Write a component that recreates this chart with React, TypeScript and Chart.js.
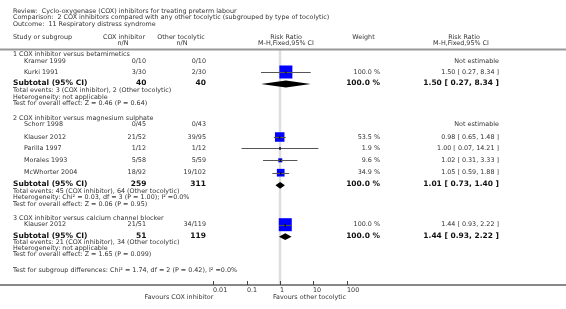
import React, { useEffect, useRef } from "react";
import { Chart, registerables } from "chart.js";

Chart.register(...registerables);

// ---------- DATA ----------
const titleLines = [
  "Review:  Cyclo-oxygenase (COX) inhibitors for treating preterm labour",
  "Comparison:  2 COX inhibitors compared with any other tocolytic (subgrouped by type of tocolytic)",
  "Outcome:  11 Respiratory distress syndrome",
];
const groupTitles = [
  "1 COX inhibitor versus betamimetics",
  "2 COX inhibitor versus magnesium sulphate",
  "3 COX inhibitor versus calcium channel blocker",
];
const studies = ["Kramer 1999", "Kurki 1991", "Schorr 1998", "Klauser 2012", "Parilla 1997", "Morales 1993", "McWhorter 2004", "Klauser 2012"];
const coxNN = ["0/10", "3/30", "0/45", "21/52", "1/12", "5/58", "18/92", "21/51"];
const otherNN = ["0/10", "2/30", "0/43", "39/95", "1/12", "5/59", "19/102", "34/119"];
const rr: (number | null)[] = [null, 1.5, null, 0.98, 1.0, 1.02, 1.05, 1.44];
const rrLow: (number | null)[] = [null, 0.27, null, 0.65, 0.07, 0.31, 0.59, 0.93];
const rrHigh: (number | null)[] = [null, 8.34, null, 1.48, 14.21, 3.33, 1.88, 2.22];
const weights: (number | null)[] = [null, 100, null, 53.5, 1.9, 9.6, 34.9, 100];
const subCox = [40, 259, 51];
const subOther = [40, 311, 119];
const subRR = [1.5, 1.01, 1.44];
const subLow = [0.27, 0.73, 0.93];
const subHigh = [8.34, 1.4, 2.22];
const totalEvents = [
  "Total events: 3 (COX inhibitor), 2 (Other tocolytic)",
  "Total events: 45 (COX inhibitor), 64 (Other tocolytic)",
  "Total events: 21 (COX inhibitor), 34 (Other tocolytic)",
];
const heterogeneity = [
  "Heterogeneity: not applicable",
  "Heterogeneity: Chi² = 0.03, df = 3 (P = 1.00); I² =0.0%",
  "Heterogeneity: not applicable",
];
const overallEffect = [
  "Test for overall effect: Z = 0.46 (P = 0.64)",
  "Test for overall effect: Z = 0.06 (P = 0.95)",
  "Test for overall effect: Z = 1.65 (P = 0.099)",
];
const subgroupDiff = "Test for subgroup differences: Chi² = 1.74, df = 2 (P = 0.42), I² =0.0%";
const axisTicks = [0.01, 0.1, 1, 10, 100];
const axisTickLabels = ["0.01", "0.1", "1", "10", "100"];
const favoursLeft = "Favours COX inhibitor";
const favoursRight = "Favours other tocolytic";

// ---------- LAYOUT (pixel rows on the y scale) ----------
const W = 566;
const H = 309;
const titleY = [11, 17.5, 24];
const headY1 = 37.5;
const headY2 = 43.3;
const headLineY = 49.5;
const groupHeadY = [54, 118.3, 218.3];
const studyY = [61, 72, 124.3, 137, 148.3, 160.3, 172.7, 224.7];
const subtotalY = [83, 184.3, 235.7];
const noteY = [
  [90.5, 97.2, 103.8],
  [191, 197.6, 204],
  [242.6, 248.8, 254.6],
];
const diffY = 270.7;
const axisY = 285;
const tickLabelY = 290;
const favoursY = 297;

const FONT = '"DejaVu Sans", Verdana, sans-serif';
const NORMAL = 6.4;
const BOLD = 7.5;
const TEXT = "#333333";

function fmt(v: number) {
  return v.toFixed(2);
}
function ciText(i: number) {
  return `${fmt(rr[i] as number)} [ ${fmt(rrLow[i] as number)}, ${fmt(rrHigh[i] as number)} ]`;
}

const forestPlugin = {
  id: "forest",
  beforeDatasetsDraw(chart: any) {
    const ctx = chart.ctx as CanvasRenderingContext2D;
    const xs = chart.scales.x;
    const ys = chart.scales.y;
    const x1 = xs.getPixelForValue(1);
    ctx.save();
    ctx.strokeStyle = "#dddddd";
    ctx.lineWidth = 2.5;
    ctx.beginPath();
    ctx.moveTo(x1, ys.getPixelForValue(headLineY));
    ctx.lineTo(x1, ys.getPixelForValue(axisY));
    ctx.stroke();
    ctx.restore();
  },
  afterDatasetsDraw(chart: any) {
    const ctx = chart.ctx as CanvasRenderingContext2D;
    const xs = chart.scales.x;
    const ys = chart.scales.y;
    const X = (v: number) => xs.getPixelForValue(v);
    const Y = (v: number) => ys.getPixelForValue(v);

    const text = (s: string, x: number, y: number, align: CanvasTextAlign, bold = false, color = TEXT) => {
      ctx.font = `${bold ? "bold " : ""}${bold ? BOLD : NORMAL}px ${FONT}`;
      ctx.textAlign = align;
      ctx.textBaseline = "middle";
      ctx.fillStyle = color;
      ctx.fillText(s, x, Y(y));
    };

    ctx.save();
    // CI lines and centre marks
    for (let i = 0; i < studies.length; i++) {
      if (rr[i] == null) continue;
      const y = Math.round(Y(studyY[i])) + 0.5;
      ctx.strokeStyle = "#555555";
      ctx.lineWidth = 1;
      ctx.beginPath();
      ctx.moveTo(X(rrLow[i] as number), y);
      ctx.lineTo(X(rrHigh[i] as number), y);
      ctx.stroke();
      ctx.strokeStyle = "#000000";
      ctx.beginPath();
      ctx.moveTo(X(rr[i] as number), y - 1.5);
      ctx.lineTo(X(rr[i] as number), y + 1.5);
      ctx.stroke();
    }
    // diamonds
    for (let g = 0; g < 3; g++) {
      const y = Y(subtotalY[g] + 1);
      const h = 3.4;
      ctx.fillStyle = "#000000";
      ctx.beginPath();
      ctx.moveTo(X(subLow[g]), y);
      ctx.lineTo(X(subRR[g]), y - h);
      ctx.lineTo(X(subHigh[g]), y);
      ctx.lineTo(X(subRR[g]), y + h);
      ctx.closePath();
      ctx.fill();
    }

    // titles
    titleLines.forEach((t, i) => text(t, 13, titleY[i], "left"));
    // headers
    text("Study or subgroup", 13, headY1, "left");
    text("COX inhibitor", 124, headY1, "center");
    text("n/N", 123, headY2, "center");
    text("Other tocolytic", 181, headY1, "center");
    text("n/N", 182, headY2, "center");
    text("Risk Ratio", 286, headY1, "center");
    text("M-H,Fixed,95% CI", 286, headY2, "center");
    text("Weight", 363.5, headY1, "center");
    text("Risk Ratio", 464, headY1, "center");
    text("M-H,Fixed,95% CI", 461, headY2, "center");

    // header rule
    ctx.strokeStyle = "#999999";
    ctx.lineWidth = 2;
    ctx.beginPath();
    ctx.moveTo(0, Y(headLineY));
    ctx.lineTo(W, Y(headLineY));
    ctx.stroke();

    // groups
    for (let g = 0; g < 3; g++) {
      text(groupTitles[g], 13, groupHeadY[g], "left");
      text("Subtotal (95% CI)", 13, subtotalY[g], "left", true, "#111111");
      text(String(subCox[g]), 146.5, subtotalY[g], "right", true, "#111111");
      text(String(subOther[g]), 206, subtotalY[g], "right", true, "#111111");
      text("100.0 %", 380, subtotalY[g], "right", true, "#111111");
      text(`${fmt(subRR[g])} [ ${fmt(subLow[g])}, ${fmt(subHigh[g])} ]`, 499, subtotalY[g], "right", true, "#111111");
      text(totalEvents[g], 13, noteY[g][0], "left");
      text(heterogeneity[g], 13, noteY[g][1], "left");
      text(overallEffect[g], 13, noteY[g][2], "left");
    }
    // studies
    for (let i = 0; i < studies.length; i++) {
      text(studies[i], 24, studyY[i], "left");
      text(coxNN[i], 146, studyY[i], "right");
      text(otherNN[i], 206, studyY[i], "right");
      if (rr[i] == null) {
        text("Not estimable", 499, studyY[i], "right");
      } else {
        text(`${(weights[i] as number).toFixed(1)} %`, 380, studyY[i], "right");
        text(ciText(i), 499, studyY[i], "right");
      }
    }
    text(subgroupDiff, 13, diffY, "left");

    // axis
    ctx.strokeStyle = "#888888";
    ctx.lineWidth = 2;
    ctx.beginPath();
    ctx.moveTo(0, Y(axisY));
    ctx.lineTo(W, Y(axisY));
    ctx.stroke();
    ctx.strokeStyle = "#444444";
    ctx.lineWidth = 1;
    axisTicks.forEach((t, i) => {
      const x = Math.round(X(t)) + 0.5;
      ctx.beginPath();
      ctx.moveTo(x, Y(axisY) - 4);
      ctx.lineTo(x, Y(axisY));
      ctx.stroke();
      text(axisTickLabels[i], x - 0.5, tickLabelY, "left");
    });
    text(favoursLeft, X(0.01), favoursY, "right");
    text(favoursRight, X(1) - 7, favoursY, "left");
    ctx.restore();
  },
};

export default function App() {
  const ref = useRef<HTMLCanvasElement | null>(null);
  useEffect(() => {
    if (!ref.current) return;
    const pts: { x: number; y: number }[] = [];
    const radii: number[] = [];
    for (let i = 0; i < studies.length; i++) {
      if (rr[i] == null) continue;
      pts.push({ x: rr[i] as number, y: studyY[i] });
      const side = 13 * Math.sqrt((weights[i] as number) / 100);
      radii.push(Math.max(side, 1.5) / (2 * Math.SQRT1_2));
    }
    const chart = new Chart(ref.current, {
      type: "scatter",
      data: {
        datasets: [
          {
            data: pts,
            pointStyle: "rect",
            pointRadius: radii,
            pointHoverRadius: radii,
            backgroundColor: "#0000ff",
            borderColor: "#0000ff",
            borderWidth: 0,
            clip: false,
          },
        ],
      },
      options: {
        animation: false,
        responsive: false,
        devicePixelRatio: 1,
        events: [],
        layout: { autoPadding: false, padding: { left: 180, right: 186, top: 0, bottom: 0 } },
        plugins: { legend: { display: false }, tooltip: { enabled: false } },
        scales: {
          x: { type: "logarithmic", min: 0.001, max: 1000, display: false },
          y: { type: "linear", min: 0, max: H, reverse: true, display: false },
        },
      },
      plugins: [forestPlugin],
    } as any);
    return () => chart.destroy();
  }, []);
  return (
    <div style={{ position: "absolute", left: 0, top: 0, width: W, height: H, background: "#fff" }}>
      <canvas ref={ref} width={W} height={H} style={{ display: "block", width: W, height: H }} />
    </div>
  );
}
